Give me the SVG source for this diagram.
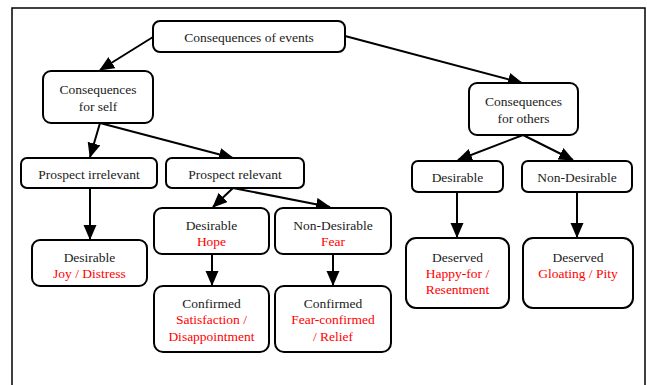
<svg xmlns="http://www.w3.org/2000/svg" width="647" height="385" viewBox="0 0 647 385">
<defs>
<marker id="ah" markerUnits="userSpaceOnUse" markerWidth="16" markerHeight="14" refX="14" refY="6.5" orient="auto">
<path d="M0,0 L15,6.5 L0,13 z" fill="#000"/>
</marker>
<style>
.n{fill:#fff;stroke:#000;stroke-width:2}
.t{font-size:13.5px;fill:#222;text-anchor:middle}
.r{fill:#f00}
.c line{stroke:#000;stroke-width:2;marker-end:url(#ah)}
</style>
</defs>
<rect x="0" y="0" width="647" height="385" fill="#fff"/>
<rect x="12" y="8" width="633" height="390" fill="none" stroke="#000" stroke-width="1.5"/>
<g class="c" id="connectors">
<line x1="153" y1="37" x2="100" y2="70"/>
<line x1="345" y1="36" x2="522" y2="83"/>
<line x1="100" y1="123" x2="90" y2="157"/>
<line x1="100" y1="123" x2="233" y2="158"/>
<line x1="90" y1="188" x2="90" y2="239"/>
<line x1="233" y1="188" x2="213" y2="207"/>
<line x1="233" y1="188" x2="330" y2="207"/>
<line x1="212" y1="254" x2="212" y2="285"/>
<line x1="333" y1="254" x2="333" y2="285"/>
<line x1="523" y1="135" x2="458" y2="160"/>
<line x1="523" y1="135" x2="573" y2="160"/>
<line x1="457" y1="192" x2="457" y2="237"/>
<line x1="577" y1="192" x2="577" y2="237"/>
</g>
<g font-family="'Liberation Serif', 'Times New Roman', serif">
<g id="events"><rect class="n" x="153" y="21" width="192" height="31" rx="7"/><text class="t" x="249" y="41.5">Consequences of events</text></g>
<g id="self"><rect class="n" x="43" y="71" width="110" height="52" rx="8"/><text class="t" x="98" y="93.5">Consequences</text><text class="t" x="98" y="110.5">for self</text></g>
<g id="others"><rect class="n" x="469" y="83" width="109" height="52" rx="8"/><text class="t" x="523.5" y="106">Consequences</text><text class="t" x="523.5" y="122.5">for others</text></g>
<g id="p_irr"><rect class="n" x="21" y="158" width="136" height="30" rx="6"/><text class="t" x="89" y="179">Prospect irrelevant</text></g>
<g id="p_rel"><rect class="n" x="166" y="158" width="138" height="30" rx="6"/><text class="t" x="235" y="179">Prospect relevant</text></g>
<g id="o_des"><rect class="n" x="412" y="161" width="91" height="31" rx="6"/><text class="t" x="457.5" y="182">Desirable</text></g>
<g id="o_nondes"><rect class="n" x="522" y="161" width="110" height="31" rx="6"/><text class="t" x="577" y="182">Non-Desirable</text></g>
<g id="joy"><rect class="n" x="32" y="240" width="115" height="46" rx="8"/><text class="t" x="89.5" y="261.5">Desirable</text><text class="t r" x="89.5" y="277.5">Joy / Distress</text></g>
<g id="hope"><rect class="n" x="154" y="208" width="115" height="46" rx="8"/><text class="t" x="211.5" y="229.5">Desirable</text><text class="t r" x="211.5" y="246">Hope</text></g>
<g id="fear"><rect class="n" x="275" y="208" width="116" height="46" rx="8"/><text class="t" x="333" y="229.5">Non-Desirable</text><text class="t r" x="333" y="246">Fear</text></g>
<g id="satisf"><rect class="n" x="154" y="286" width="115" height="66" rx="9"/><text class="t" x="211.5" y="307.5">Confirmed</text><text class="t r" x="211.5" y="324">Satisfaction /</text><text class="t r" x="211.5" y="341">Disappointment</text></g>
<g id="feconf"><rect class="n" x="275" y="286" width="116" height="66" rx="9"/><text class="t" x="333" y="307.5">Confirmed</text><text class="t r" x="333" y="324">Fear-confirmed</text><text class="t r" x="333" y="341">/ Relief</text></g>
<g id="happy"><rect class="n" x="406" y="238" width="103" height="70" rx="10"/><text class="t" x="457.5" y="261.5">Deserved</text><text class="t r" x="457.5" y="277.5">Happy-for /</text><text class="t r" x="457.5" y="293.5">Resentment</text></g>
<g id="gloat"><rect class="n" x="523" y="238" width="110" height="70" rx="10"/><text class="t" x="578" y="261.5">Deserved</text><text class="t r" x="578" y="277.5">Gloating / Pity</text></g>
</g>
</svg>
